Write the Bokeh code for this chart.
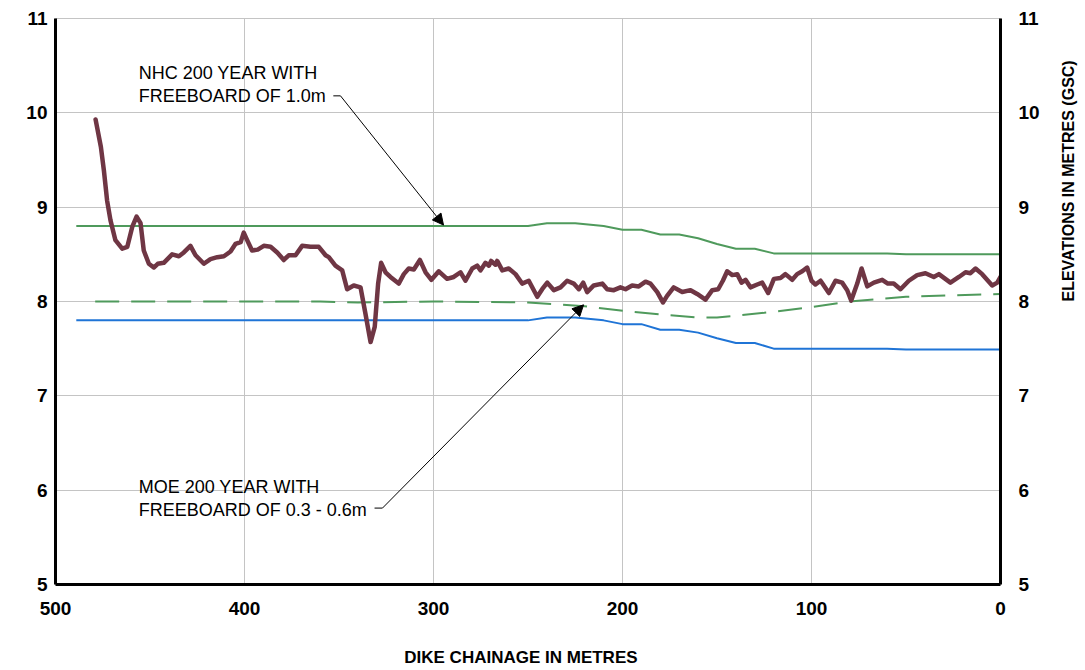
import math
from bokeh.plotting import figure
from bokeh.models import Range1d, FixedTicker, LinearAxis, Label, Arrow, NormalHead
from bokeh.embed import file_html
from bokeh.resources import INLINE

# ---------------- data ----------------
x_ticks = [500, 400, 300, 200, 100, 0]
y_ticks = [5, 6, 7, 8, 9, 10, 11]

ground_x = [478.8, 476.0, 474.4, 472.7, 470.9, 468.3, 464.7, 462.0, 459.4, 457.1, 455.0, 453.3,
            450.6, 448.0, 445.9, 442.7, 438.3, 434.7, 432.1, 428.6, 425.9, 421.5, 418.0, 414.4,
            410.9, 407.4, 404.8, 402.0, 400.4, 398.6, 396.0, 393.0, 389.8, 386.2, 382.7, 379.2,
            376.6, 373.0, 369.5, 365.1, 360.7, 357.1, 355.4, 351.9, 348.3, 345.7, 342.2, 338.6,
            336.0, 333.3, 331.1, 329.3, 327.7, 325.4, 322.8, 318.4, 315.7, 313.1, 310.4, 307.2,
            304.2, 301.1, 297.2, 292.8, 289.3, 285.7, 283.1, 279.5, 276.9, 275.1, 272.5, 270.7,
            269.5, 267.2, 266.3, 263.6, 260.2, 256.6, 253.1, 249.6, 245.1, 242.5, 239.8, 236.3,
            232.8, 229.3, 225.8, 223.1, 220.8, 218.7, 215.2, 210.7, 208.1, 204.6, 201.1, 198.4,
            194.9, 191.4, 187.8, 185.2, 181.6, 178.6, 176.4, 172.9, 168.4, 164.0, 160.5, 156.1,
            152.5, 149.4, 146.9, 144.6, 141.9, 139.3, 137.0, 134.9, 132.3, 128.7, 126.1, 122.9,
            119.9, 116.4, 113.8, 110.2, 107.6, 104.9, 102.3, 100.0, 97.9, 95.2, 90.8, 87.3,
            83.8, 81.1, 79.0, 75.8, 73.5, 70.5, 67.0, 62.6, 59.6, 56.5, 52.9, 48.5,
            44.1, 39.7, 35.3, 32.6, 26.5, 22.0, 18.5, 15.9, 13.2, 9.7, 4.4, 1.7, 0.0]
ground_y = [9.93, 9.64, 9.39, 9.07, 8.86, 8.65, 8.56, 8.58, 8.79, 8.90, 8.83, 8.54,
            8.40, 8.36, 8.40, 8.41, 8.50, 8.48, 8.52, 8.59, 8.49, 8.40, 8.45, 8.47,
            8.48, 8.53, 8.61, 8.63, 8.73, 8.65, 8.54, 8.55, 8.59, 8.58, 8.52, 8.44,
            8.49, 8.49, 8.59, 8.58, 8.58, 8.49, 8.47, 8.38, 8.33, 8.13, 8.17, 8.15,
            7.87, 7.57, 7.73, 8.19, 8.41, 8.31, 8.26, 8.19, 8.29, 8.35, 8.34, 8.44,
            8.31, 8.23, 8.32, 8.24, 8.26, 8.31, 8.22, 8.35, 8.38, 8.33, 8.41, 8.38,
            8.43, 8.39, 8.43, 8.33, 8.35, 8.29, 8.19, 8.22, 8.05, 8.13, 8.20, 8.12,
            8.15, 8.22, 8.19, 8.13, 8.20, 8.10, 8.17, 8.19, 8.13, 8.12, 8.15, 8.13,
            8.17, 8.16, 8.21, 8.19, 8.10, 7.99, 8.06, 8.15, 8.10, 8.12, 8.08, 8.02,
            8.12, 8.13, 8.22, 8.32, 8.28, 8.29, 8.20, 8.23, 8.15, 8.18, 8.20, 8.09,
            8.24, 8.25, 8.29, 8.23, 8.29, 8.32, 8.36, 8.22, 8.18, 8.22, 8.09, 8.22,
            8.20, 8.12, 8.01, 8.19, 8.35, 8.16, 8.20, 8.23, 8.19, 8.19, 8.13, 8.22,
            8.28, 8.30, 8.26, 8.29, 8.20, 8.26, 8.31, 8.30, 8.35, 8.29, 8.17, 8.20, 8.26]

nhc_x = [489, 250, 240, 225, 210, 200, 190, 180, 170, 160, 150, 140, 130, 120, 60, 50, 0]
nhc_y = [8.80, 8.80, 8.83, 8.83, 8.80, 8.76, 8.76, 8.71, 8.71, 8.67, 8.61, 8.56, 8.56, 8.51, 8.51, 8.50, 8.50]

nofb_x = [489, 250, 240, 225, 210, 200, 190, 180, 170, 160, 150, 140, 130, 120, 60, 50, 0]
nofb_y = [7.80, 7.80, 7.83, 7.83, 7.80, 7.76, 7.76, 7.70, 7.70, 7.67, 7.61, 7.56, 7.56, 7.50, 7.50, 7.49, 7.49]

moe_x = [479, 360, 340, 300, 250, 220, 195, 160, 150, 125, 100, 80, 50, 0]
moe_y = [8.00, 8.00, 7.99, 8.00, 7.99, 7.95, 7.89, 7.83, 7.83, 7.88, 7.94, 8.00, 8.05, 8.08]

nhc_text = ["NHC 200 YEAR WITH", "FREEBOARD OF 1.0m"]
moe_text = ["MOE 200 YEAR WITH", "FREEBOARD OF 0.3 - 0.6m"]
nhc_text_pos = (456.0, [10.42, 10.18])
moe_text_pos = (456.0, [6.03, 5.79])
nhc_leader_x = [353.0, 349.2]
nhc_leader_y = [10.18, 10.18]
nhc_arrow_tip = (294.7, 8.81)
moe_leader_x = [331.2, 327.0]
moe_leader_y = [5.81, 5.81]
moe_arrow_tip = (220.6, 7.965)
right_title = "ELEVATIONS  IN  METRES  (GSC)"
right_title_bounds = (5.0, 8.646)

# ---------------- figure ----------------
p = figure(frame_width=945, frame_height=566,
           x_range=Range1d(500, 0), y_range=Range1d(5, 11),
           output_backend="svg", toolbar_location=None,
           min_border_left=55, min_border_right=82, min_border_top=18, min_border_bottom=80,
           background_fill_color="white", border_fill_color="white")

p.outline_line_color = "#c4c4c4"
p.outline_line_width = 1

grid_color = "#c4c4c4"
p.xgrid.ticker = FixedTicker(ticks=x_ticks)
p.ygrid.ticker = FixedTicker(ticks=y_ticks)
p.xgrid.grid_line_color = grid_color
p.ygrid.grid_line_color = grid_color
p.xgrid.grid_line_width = 1
p.ygrid.grid_line_width = 1


def style_axis(ax, standoff):
    ax.axis_line_color = "black"
    ax.axis_line_width = 3
    ax.major_tick_out = 0
    ax.major_tick_in = 0
    ax.minor_tick_out = 0
    ax.minor_tick_in = 0
    ax.major_label_standoff = standoff
    ax.major_label_text_font = "Liberation Sans"
    ax.major_label_text_font_style = "bold"
    ax.major_label_text_font_size = "19px"
    ax.major_label_text_color = "black"


xa = p.xaxis[0]
xa.ticker = FixedTicker(ticks=x_ticks)
style_axis(xa, 17)
xa.axis_label = "DIKE  CHAINAGE  IN  METRES"
xa.axis_label_text_font = "Liberation Sans"
xa.axis_label_text_font_style = "bold"
xa.axis_label_text_font_size = "17px"
xa.axis_label_text_color = "black"
xa.axis_label_standoff = 30

ya = p.yaxis[0]
ya.ticker = FixedTicker(ticks=y_ticks)
style_axis(ya, 8)

ra = LinearAxis(ticker=FixedTicker(ticks=y_ticks))
style_axis(ra, 18)
p.add_layout(ra, "right")

# title-only axis on the right, reading bottom to top
ta = LinearAxis(ticker=FixedTicker(ticks=[]), bounds=right_title_bounds)
ta.axis_line_color = None
ta.major_tick_out = 0
ta.major_tick_in = 0
ta.minor_tick_out = 0
ta.minor_tick_in = 0
ta.axis_label = right_title
ta.axis_label_text_font = "Liberation Sans"
ta.axis_label_text_font_style = "bold"
ta.axis_label_text_font_size = "16px"
ta.axis_label_text_color = "black"
ta.axis_label_standoff = 26
ta.axis_label_orientation = math.pi / 2
p.add_layout(ta, "right")

# series
p.line(nofb_x, nofb_y, line_color="#1f74d6", line_width=2)
p.line(nhc_x, nhc_y, line_color="#4f9a5c", line_width=2)
p.line(moe_x, moe_y, line_color="#4f9a5c", line_width=2, line_dash="24 12")
p.line(ground_x, ground_y, line_color="#6f3644", line_width=4.5, line_join="round", line_cap="round")

# annotations
for txt, yy in zip(nhc_text, nhc_text_pos[1]):
    p.add_layout(Label(x=nhc_text_pos[0], y=yy, text=txt, text_font="Liberation Sans",
                       text_font_size="18px", text_baseline="middle", text_color="black"))
for txt, yy in zip(moe_text, moe_text_pos[1]):
    p.add_layout(Label(x=moe_text_pos[0], y=yy, text=txt, text_font="Liberation Sans",
                       text_font_size="18px", text_baseline="middle", text_color="black"))

p.line(nhc_leader_x, nhc_leader_y, line_color="black", line_width=1)
p.line(moe_leader_x, moe_leader_y, line_color="black", line_width=1)
p.add_layout(Arrow(end=NormalHead(size=11, fill_color="black", line_color="black", line_width=1),
                   x_start=nhc_leader_x[1], y_start=nhc_leader_y[1],
                   x_end=nhc_arrow_tip[0], y_end=nhc_arrow_tip[1],
                   line_color="black", line_width=1))
p.add_layout(Arrow(end=NormalHead(size=11, fill_color="black", line_color="black", line_width=1),
                   x_start=moe_leader_x[1], y_start=moe_leader_y[1],
                   x_end=moe_arrow_tip[0], y_end=moe_arrow_tip[1],
                   line_color="black", line_width=1))

open("out.html", "w").write(file_html(p, INLINE))
